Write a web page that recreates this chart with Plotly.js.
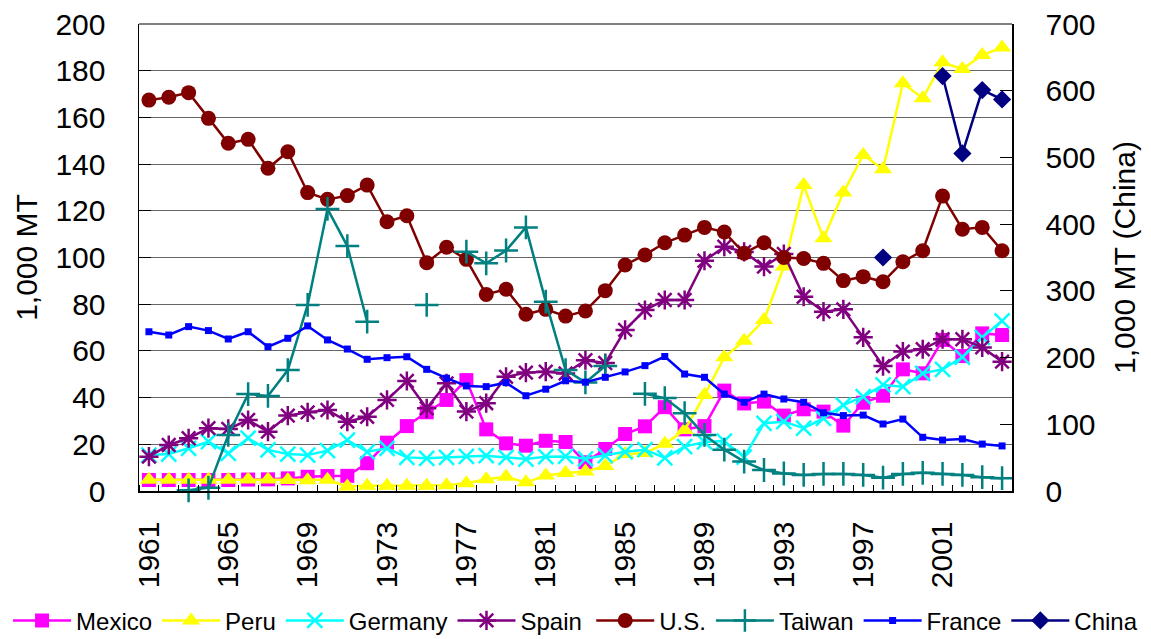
<!DOCTYPE html>
<html>
<head>
<meta charset="utf-8">
<script src="https://cdn.plot.ly/plotly-3.0.1.min.js"></script>
<style>html,body{margin:0;padding:0;background:#fff;}#chart{width:1151px;height:639px;}</style>
</head>
<body>
<div id="chart"></div>
<script>
const years = [1961,1962,1963,1964,1965,1966,1967,1968,1969,1970,1971,1972,1973,1974,1975,1976,1977,1978,1979,1980,1981,1982,1983,1984,1985,1986,1987,1988,1989,1990,1991,1992,1993,1994,1995,1996,1997,1998,1999,2000,2001,2002,2003,2004];
const xTickYears = [1961,1965,1969,1973,1977,1981,1985,1989,1993,1997,2001];

const mexico = [4.7,4.7,4.7,4.7,4.7,4.9,5.0,5.4,6.1,6.4,6.5,11.9,20.7,27.8,33.7,39.0,47.5,26.4,20.4,19.4,21.5,21.0,12.3,18.0,24.4,27.7,35.9,26.4,27.8,43.0,37.5,38.3,32.3,35.0,34.0,28.0,37.8,40.8,52.1,50.4,64.7,57.8,67.5,66.8];
const peru = [4.8,4.8,4.8,4.8,4.8,4.9,4.9,4.7,4.6,4.8,1.9,2.3,2.3,2.3,2.3,2.5,3.3,5.0,6.1,3.7,6.6,7.7,8.3,10.7,15.8,16.3,20.2,26.1,41.1,57.3,64.4,73.2,96.1,131.0,108.2,127.8,143.9,137.8,174.6,168.2,183.6,180.7,186.7,189.9];
const germany = [15.4,15.8,18.3,21.1,16.1,22.6,17.6,15.8,15.4,17.3,21.8,16.8,18.3,14.4,14.0,14.4,14.8,15.1,14.4,13.7,14.7,14.8,13.8,15.2,16.8,17.7,14.2,19.0,21.0,21.4,14.5,29.0,29.7,26.9,31.1,36.8,40.4,45.4,44.7,50.4,52.1,57.3,65.8,72.9];
const spain = [14.7,19.7,22.6,26.9,26.6,30.4,25.4,32.3,33.7,34.7,29.7,31.8,39.0,47.1,35.4,46.1,34.0,37.6,48.9,50.7,51.1,50.3,56.0,54.8,69.0,77.5,81.8,81.8,98.6,104.6,102.4,96.1,101.5,83.2,76.8,77.8,65.8,53.5,59.7,60.7,65.0,65.0,61.5,55.4];
const us = [167.4,168.6,170.6,159.6,148.9,150.6,138.2,145.3,127.8,124.9,126.5,131.0,115.3,117.9,97.8,104.4,99.2,84.2,86.4,75.7,77.8,74.9,77.1,85.8,96.8,101.1,106.3,109.6,112.9,110.9,101.8,106.3,100.0,99.6,97.5,90.1,91.8,89.6,98.2,102.9,126.3,112.1,112.9,102.9];
const taiwan = [null,null,0.3,1.4,24.0,41.5,40.7,51.8,79.7,120.8,104.9,72.5,null,null,79.7,null,102.5,97.5,103.0,112.9,81.1,51.8,46.5,53.5,null,41.6,39.8,33.3,24.0,17.7,12.6,9.0,7.5,6.9,7.3,7.3,6.9,5.7,7.3,7.8,7.3,6.9,5.9,5.5];
const france = [68.2,66.8,70.4,68.7,65.1,68.2,61.8,65.4,70.7,64.7,60.8,56.4,57.1,57.5,52.1,48.3,45.0,44.7,46.4,40.8,43.6,47.2,46.6,48.7,51.0,53.7,57.6,50.1,48.7,41.5,38.0,41.5,39.4,38.0,33.5,32.3,32.5,28.7,30.8,23.0,21.8,22.3,20.1,19.3];
const china = [null,null,null,null,null,null,null,null,null,null,null,null,null,null,null,null,null,null,null,null,null,null,null,null,null,null,null,null,null,null,null,null,null,null,null,null,null,350,null,null,622,506,601,587];

const FONT = 'Liberation Sans, Arial, sans-serif';

function tr(name, y, color, symbol, size, opts) {
  opts = opts || {};
  const marker = {symbol: symbol, size: size, color: color};
  if (opts.mline) marker.line = {color: color, width: opts.mline};
  return {
    type: 'scatter', mode: 'lines+markers', name: name,
    x: years, y: y, yaxis: opts.y2 ? 'y2' : 'y',
    legend: opts.leg || 'legend',
    line: {color: color, width: 2.5},
    marker: marker, connectgaps: false, cliponaxis: false
  };
}

const data = [
  tr('Mexico', mexico, '#FF00FF', 'square', 14),
  tr('Peru', peru, '#FFFF00', 'triangle-up', 16),
  tr('Germany', germany, '#00FFFF', 'x-thin-open', 15, {mline: 2.5}),
  tr('Spain', spain, '#800080', 'asterisk-open', 16, {mline: 2.5}),
  tr('U.S.', us, '#800000', 'circle', 15, {leg: 'legend2'}),
  tr('Taiwan', taiwan, '#008080', 'cross-thin-open', 17, {mline: 2.5, leg: 'legend2'}),
  tr('France', france, '#0000FF', 'square', 7, {leg: 'legend2'}),
  tr('China', china, '#000080', 'diamond', 14, {y2: true, leg: 'legend2'})
];

const legFont = {family: FONT, size: 24, color: '#000'};
const legBase = {orientation: 'h', xanchor: 'left', yanchor: 'middle', y: -0.278,
  font: legFont, itemwidth: 58, bgcolor: 'rgba(0,0,0,0)', traceorder: 'normal', borderwidth: 0};

const layout = {
  width: 1151, height: 639,
  margin: {l: 139, r: 139, t: 24, b: 148, autoexpand: false},
  paper_bgcolor: '#ffffff', plot_bgcolor: '#ffffff',
  font: {family: FONT, size: 30, color: '#000'},
  showlegend: true,
  xaxis: {
    type: 'linear', range: [1960.5, 2004.5], automargin: false,
    tickmode: 'array', tickvals: xTickYears, ticktext: xTickYears.map(String),
    tickangle: -90, ticks: '', showgrid: false, zeroline: false,
    showline: true, linecolor: '#000', linewidth: 1.5,
    tickfont: {family: FONT, size: 30, color: '#000'},
    ticklabelstandoff: 17,
    minor: {tick0: 1960.5, dtick: 1, ticks: 'inside', ticklen: 6, tickcolor: '#000', tickwidth: 1, showgrid: false}
  },
  yaxis: {
    range: [0, 200], dtick: 20, tick0: 0, automargin: false,
    ticks: 'inside', ticklen: 12, tickcolor: '#000', tickwidth: 1,
    showline: true, linecolor: '#000', linewidth: 1.5,
    showgrid: true, gridcolor: '#666', gridwidth: 1, zeroline: false,
    tickfont: {family: FONT, size: 30, color: '#000'},
    ticklabelstandoff: 26,
    title: {text: '1,000 MT', font: {family: FONT, size: 30, color: '#000'}, standoff: 9}
  },
  yaxis2: {
    overlaying: 'y', side: 'right', automargin: false,
    range: [0, 700], dtick: 100, tick0: 0,
    ticks: 'inside', ticklen: 12, tickcolor: '#000', tickwidth: 1,
    showline: true, linecolor: '#000', linewidth: 1.5,
    showgrid: false, zeroline: false,
    tickfont: {family: FONT, size: 30, color: '#000'},
    ticklabelstandoff: 26,
    title: {text: '1,000 MT (China)', font: {family: FONT, size: 30, color: '#000'}, standoff: 19}
  },
  legend: Object.assign({}, legBase, {x: -0.150}),
  legend2: Object.assign({}, legBase, {x: 0.518}),
  shapes: [{type: 'line', xref: 'paper', yref: 'paper', x0: 0, x1: 1, y0: 1, y1: 1, line: {color: '#808080', width: 2}}]
};

Plotly.newPlot('chart', data, layout, {displayModeBar: false, staticPlot: true});
</script>
</body>
</html>
